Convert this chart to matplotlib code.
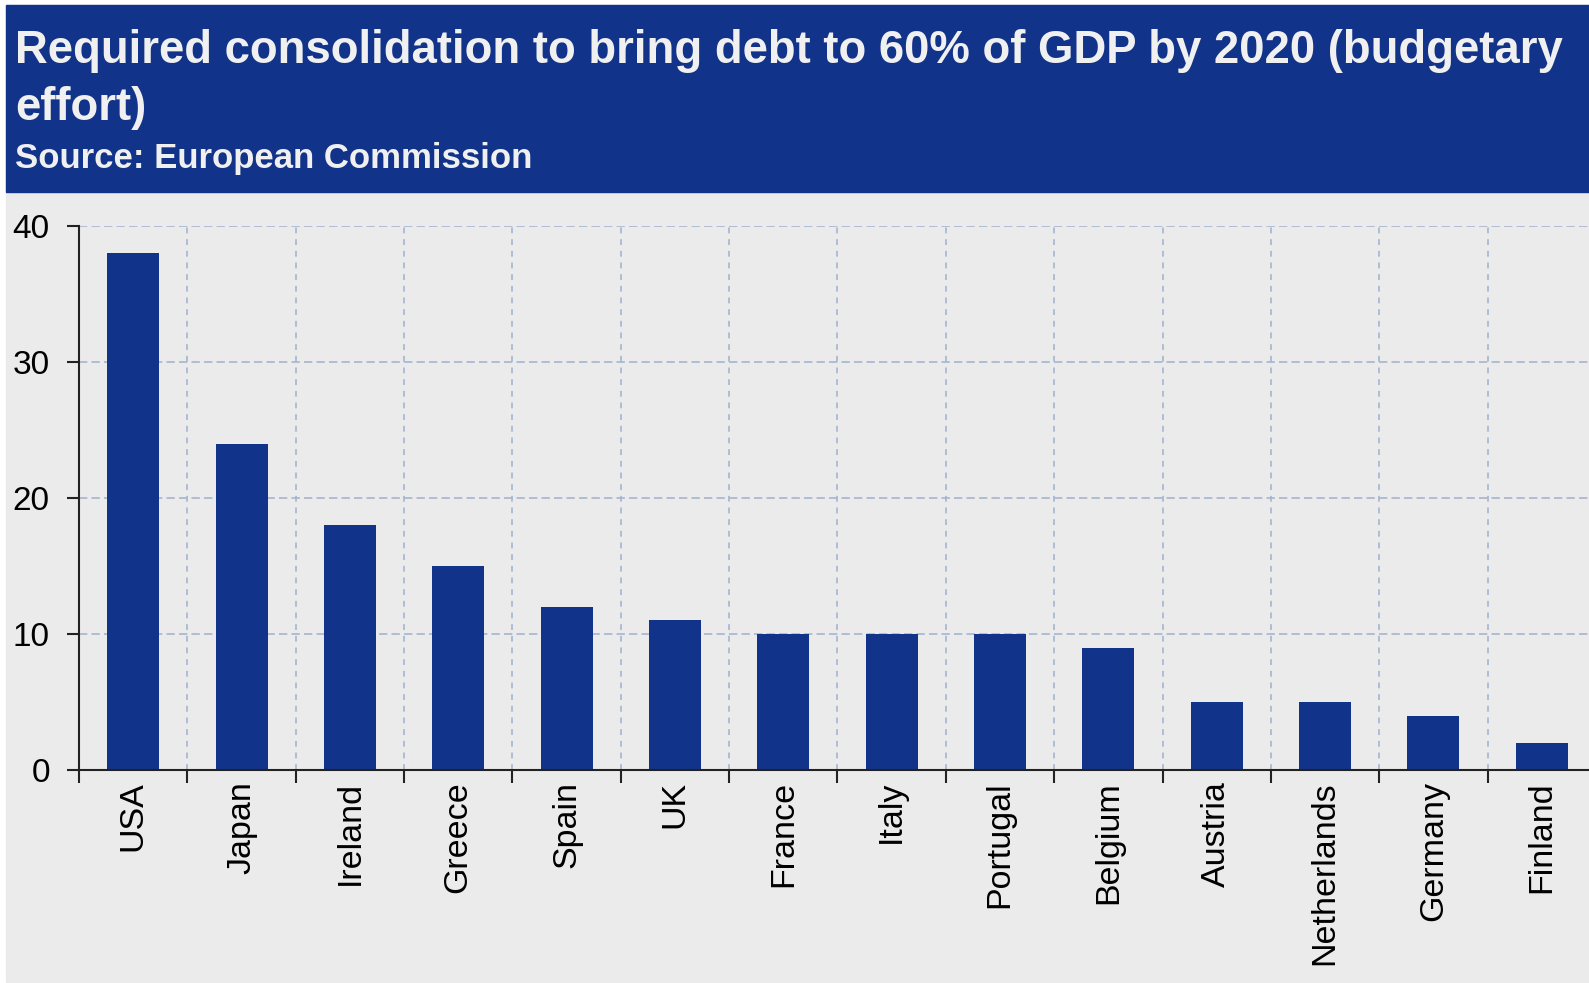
import matplotlib
matplotlib.use("Agg")
from matplotlib import pyplot as plt
from matplotlib.patches import Rectangle
import numpy as np

countries = ["USA", "Japan", "Ireland", "Greece", "Spain", "UK", "France",
             "Italy", "Portugal", "Belgium", "Austria", "Netherlands",
             "Germany", "Finland"]
effort = [38, 24, 18, 15, 12, 11, 10, 10, 10, 9, 5, 5, 4, 2]
y_ticks = [0, 10, 20, 30, 40]

title_lines = ["Required consolidation to bring debt to 60% of GDP by 2020 (budgetary",
               "effort)"]
source = "Source: European Commission"

NAVY = "#12338a"
BG = "#ebebeb"
GRID = "#a4b5d0"

W, H = 1589, 983
plt.rcParams["font.family"] = ["Liberation Sans", "DejaVu Sans"]

fig = plt.figure(figsize=(W / 100, H / 100), dpi=100, facecolor="white")

# grey panel and navy header band, kept behind the axes
fig.patches.append(Rectangle((6 / W, 1 / H), 1, (H - 6) / H,
                             transform=fig.transFigure, color=BG, zorder=-2))
fig.patches.append(Rectangle((6 / W, 1 - 192 / H), 1, 187 / H,
                             transform=fig.transFigure, color=NAVY, zorder=-1))

for i, line in enumerate(title_lines):
    fig.text(15 / W, 1 - (63 + 57 * i) / H, line, color="#f0f0f0", fontsize=32.8,
             fontweight="bold", va="baseline", ha="left")
fig.text(15 / W, 1 - 168 / H, source, color="#f0f0f0", fontsize=25,
         fontweight="bold", va="baseline", ha="left")

left, right = 79, 1596
top, bottom = 226, 770
ax = fig.add_axes([left / W, (H - bottom) / H, (right - left) / W, (bottom - top) / H])
ax.set_facecolor("none")

x = np.arange(len(countries)) + 0.5
ax.bar(x, effort, width=0.48, color=NAVY, zorder=3)

ax.set_xlim(0, len(countries))
ax.set_ylim(0, 40)
ax.set_yticks(y_ticks)

# labels at bar centres, tick marks and grid on category boundaries
ax.set_xticks(x)
ax.set_xticklabels(countries, rotation=90, fontsize=24.5)
ax.set_xticks(np.arange(len(countries) + 1), minor=True)
ax.tick_params(axis="x", which="major", length=0, pad=8)
ax.tick_params(axis="x", which="minor", length=9, width=1.5, color="#222222")
ax.tick_params(axis="y", length=9, width=1.5, color="#222222", labelsize=24, pad=12)

ax.grid(True, axis="y", which="major", color=GRID, linestyle=(0, (5, 2.5)), linewidth=1.2, zorder=1)
ax.grid(True, axis="x", which="minor", color=GRID, linestyle=(0, (3.5, 3.5)), linewidth=1.2, zorder=1)
ax.grid(False, axis="x", which="major")

for s in ["top", "right"]:
    ax.spines[s].set_visible(False)
for s in ["left", "bottom"]:
    ax.spines[s].set_linewidth(1.5)
    ax.spines[s].set_color("#222222")
    ax.spines[s].set_zorder(4)

fig.savefig("out.png", dpi=100, facecolor="white")
